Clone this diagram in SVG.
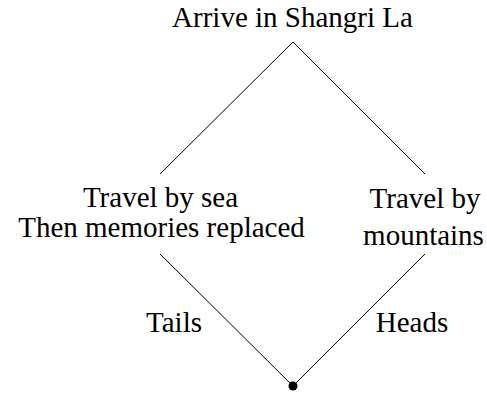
<svg xmlns="http://www.w3.org/2000/svg" width="487" height="394" viewBox="0 0 487 394">
  <style>
    text { font-family: 'Liberation Serif', 'Times New Roman', serif; font-size: 29px; fill: #000; text-anchor: middle; }
    .edge { stroke: #000; stroke-width: 1; fill: none; }
  </style>
  <rect width="487" height="394" fill="#fff"/>
  <g id="connectors">
    <line class="edge" x1="293" y1="42" x2="160" y2="174"/>
    <line class="edge" x1="293" y1="42" x2="425" y2="174"/>
    <line class="edge" x1="160" y1="254" x2="293" y2="386"/>
    <line class="edge" x1="425" y1="254" x2="293" y2="386"/>
    <text x="174" y="332">Tails</text>
    <text x="412" y="332">Heads</text>
  </g>
  <g id="arrive">
    <text x="292.5" y="27">Arrive in Shangri La</text>
  </g>
  <g id="sea">
    <text x="160.5" y="207">Travel by sea</text>
    <text x="161.5" y="237">Then memories replaced</text>
  </g>
  <g id="mountains">
    <text x="425" y="208">Travel by</text>
    <text x="423.5" y="245">mountains</text>
  </g>
  <g id="start">
    <circle cx="293" cy="386" r="4.5" fill="#000"/>
  </g>
</svg>
